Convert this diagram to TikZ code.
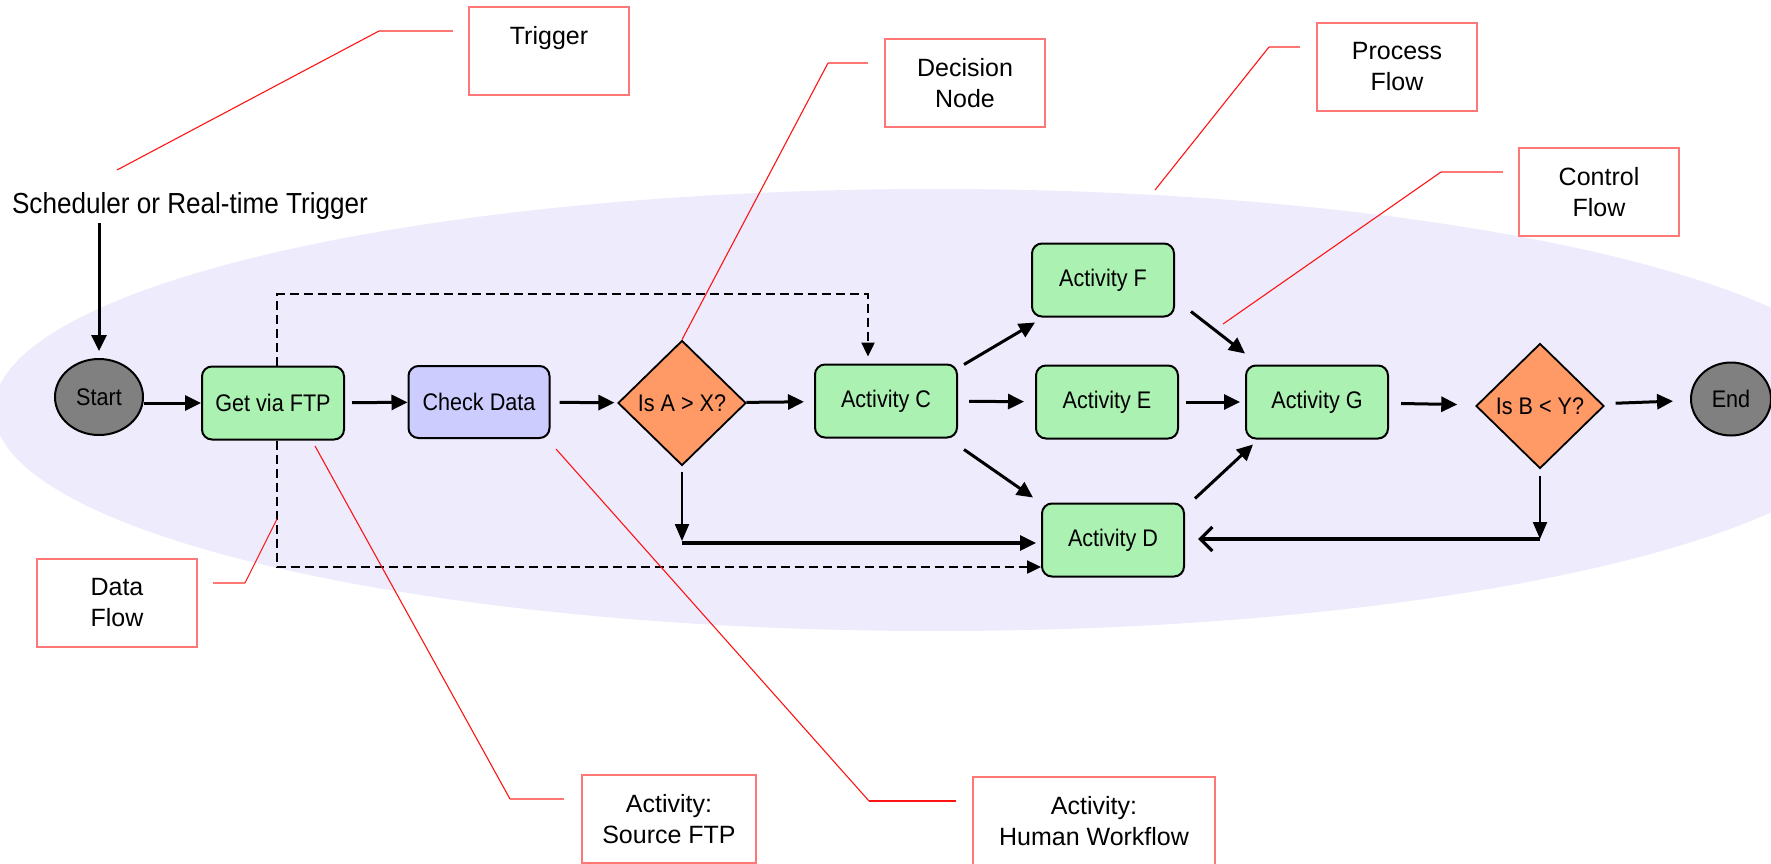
\documentclass[tikz,border=0pt]{standalone}
\usepackage{fontspec}
\setmainfont{Liberation Sans}
\usepackage{graphicx}
\usetikzlibrary{shapes.geometric,arrows.meta,calc}
\definecolor{bgell}{RGB}{237,235,252}
\definecolor{actgreen}{RGB}{171,241,178}
\definecolor{humanblue}{RGB}{204,204,255}
\definecolor{decorange}{RGB}{255,153,102}
\definecolor{termgray}{RGB}{128,128,128}
\definecolor{calloutbox}{RGB}{255,119,119}
\definecolor{calloutline}{RGB}{255,20,20}
\newcommand\nodetxt[1]{\scalebox{0.9}[1]{#1}}
\begin{document}
\begin{tikzpicture}[x=1pt,y=-1pt,
  every node/.style={font=\fontsize{24}{28}\selectfont},
  act/.style={draw=black, line width=2pt, rounded corners=10pt, fill=actgreen, minimum width=142pt, minimum height=73pt, inner sep=0pt},
  hum/.style={act, fill=humanblue},
  dec/.style={diamond, draw=black, line width=1.8pt, fill=decorange, minimum width=128pt, minimum height=125pt, inner sep=0pt},
  term/.style={ellipse, draw=black, line width=2pt, fill=termgray, minimum width=88pt, minimum height=76pt, inner sep=0pt},
  lbl/.style={draw=calloutbox, line width=2pt, fill=white, align=center, font=\fontsize{25}{31}\selectfont, inner sep=0pt, minimum width=160pt, minimum height=88pt},
  flow/.style={draw=black, line width=3pt, -{Triangle[length=16pt,width=15pt]}},
  flowthin/.style={draw=black, line width=2.2pt, -{Triangle[length=17pt,width=14pt]}},
  dflow/.style={draw=black, line width=2.4pt, dash pattern=on 9pt off 5pt, -{Triangle[length=14pt,width=13pt]}},
  calh/.style={draw=calloutbox, line width=2pt},
  cald/.style={draw=calloutline, line width=1.1pt},
]
\useasboundingbox (0,0) rectangle (1771,864);
% process flow background
\fill[bgell] (936,410) ellipse [x radius=942pt, y radius=221pt];

% trigger text
\node[font=\fontsize{29}{34}\selectfont, anchor=base, inner sep=4pt] (sched) at (190,213) {\nodetxt{Scheduler or Real-time Trigger}};

% flow nodes
\node[term] (start) at (99,397) {\nodetxt{Start}};
\node[act] (get) at (273,403) {\nodetxt{Get via FTP}};
\node[hum, minimum width=141pt, minimum height=72pt] (check) at (479,402) {\nodetxt{Check Data}};
\node[dec] (A) at (682,403) {\nodetxt{Is A > X?}};
\node[act] (C) at (886,401) {\nodetxt{Activity C}};
\node[act] (F) at (1103,280) {\nodetxt{Activity F}};
\node[act] (E) at (1107,402) {\nodetxt{Activity E}};
\node[act] (G) at (1317,402) {\nodetxt{Activity G}};
\node[act] (D) at (1113,540) {\nodetxt{Activity D}};
\node[dec] (B) at (1540,406) {\nodetxt{Is B < Y?}};
\node[term, minimum width=80pt, minimum height=73pt] (end) at (1731,399) {\nodetxt{End}};

% control flow
\draw[flow, shorten >=7pt] (start.north |- sched.south) -- (start.north);
\draw[flow] (start.east |- get.west) -- (get.west);
\draw[flow, shorten <=7pt] (get) -- (check);
\draw[flow, shorten <=9pt, shorten >=3pt] (check) -- (A);
\draw[flow, shorten >=10pt] (A) -- (C);
\draw[flow] ($(C.north east)+(6,1)$) -- ($(F.south west)+(4,5)$);
\draw[flow, shorten <=11pt, shorten >=11pt] (C) -- (E);
\draw[flow] ($(C.south east)+(6,11)$) -- ($(D.north west)+(-8,-5)$);
\draw[flow, shorten <=7pt, shorten >=5pt] (E) -- (G);
\draw[flow] ($(F.south east)+(16,-6)$) -- ($(G.north west)+(0,-11)$);
\draw[flow] ($(D.north east)+(10,-4)$) -- ($(G.south west)+(8,5)$);
\draw[flow, shorten <=12pt, shorten >=19pt] (G) -- (B);
\draw[flow, shorten <=13pt, shorten >=17pt] (B) -- (end);

\coordinate (Ajoin) at (682,543);
\draw[flowthin, shorten <=6pt, shorten >=2pt] (A.south) -- (Ajoin);
\draw[flow, line width=3.2pt, shorten >=5pt] (Ajoin) -- (D.west |- Ajoin);
\coordinate (Bjoin) at (1540,539);
\draw[flowthin, shorten <=7pt] (B.south) -- (Bjoin);
\draw[draw=black, line width=3.2pt, -{Straight Barb[length=12pt,width=24pt]}, shorten >=13pt] (Bjoin) -- (D.east |- Bjoin);

% data flow (dashed)
\coordinate (dtl) at (277,294);
\coordinate (dtr) at (868,294);
\draw[dflow, shorten >=7pt] (get.north -| dtl) -- (dtl) -- (dtr) -- (C.north -| dtr);
\coordinate (dbl) at (277,567);
\draw[dflow] (get.south -| dbl) -- (dbl) -- (D.west |- dbl);

% callout boxes
\node[lbl] (ltrig) at (549,51) {Trigger\\\mbox{}};
\node[lbl] (ldec) at (965,83) {Decision\\Node};
\node[lbl] (lproc) at (1397,67) {Process\\Flow};
\node[lbl] (lctrl) at (1599,192) {Control\\Flow};
\node[lbl] (ldata) at (117,602.5) {Data\\Flow};
\node[lbl, minimum width=174pt] (lsrc) at (669,819) {Activity:\\Source FTP};
\node[lbl, minimum width=242pt, minimum height=89pt] (lhum) at (1094,821.5) {Activity:\\Human Workflow};

% callout lines
\coordinate (tr1) at (453,31); \coordinate (tr2) at (379,31); \coordinate (tr3) at (117,170);
\draw[calh] (tr1) -- (tr2); \draw[cald] (tr2) -- (tr3);
\coordinate (de1) at (868,63); \coordinate (de2) at (828,63);
\draw[calh] (de1) -- (de2); \draw[cald] (de2) -- (A.north);
\coordinate (pr1) at (1300,47); \coordinate (pr2) at (1269,47); \coordinate (pr3) at (1155,190);
\draw[calh] (pr1) -- (pr2); \draw[cald] (pr2) -- (pr3);
\coordinate (co1) at (1503,172); \coordinate (co2) at (1441,172); \coordinate (co3) at (1223,324);
\draw[calh] (co1) -- (co2); \draw[cald] (co2) -- (co3);
\coordinate (da1) at (213,583); \coordinate (da2) at (245,583); \coordinate (da3) at (277,519);
\draw[calh] (da1) -- (da2); \draw[cald] (da2) -- (da3);
\coordinate (so1) at (564,799); \coordinate (so2) at (510,799); \coordinate (so3) at (315,446);
\draw[calh] (so1) -- (so2); \draw[cald] (so2) -- (so3);
\coordinate (hu1) at (956,801); \coordinate (hu2) at (869,801); \coordinate (hu3) at (556,449);
\draw[calh, draw=calloutline] (hu1) -- (hu2); \draw[cald] (hu2) -- (hu3);
\end{tikzpicture}
\end{document}
